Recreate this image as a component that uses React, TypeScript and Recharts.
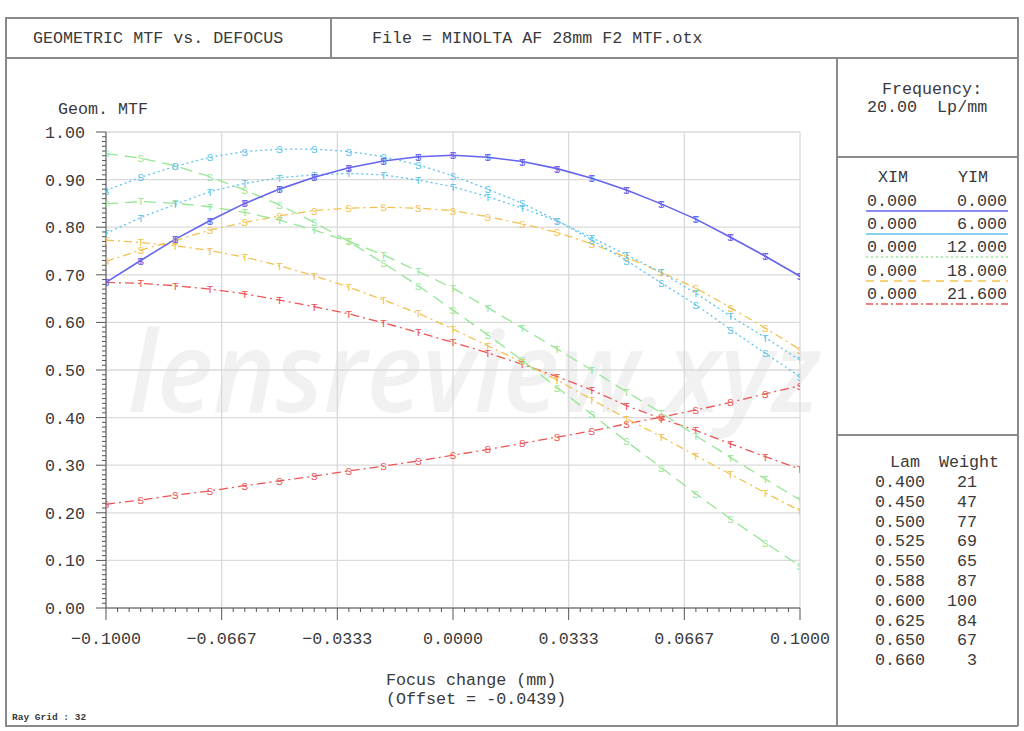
import React from "react";
import { CartesianGrid, Line, LineChart, XAxis, YAxis } from "recharts";

const FONT = "'Liberation Mono', 'DejaVu Sans Mono', monospace";
const INK = "#3a3a3a";
const AXIS = "#555";

// focus shift (mm), one sample every 0.01
const focus = [
  -0.1, -0.09, -0.08, -0.07, -0.06, -0.05, -0.04, -0.03, -0.02, -0.01, 0,
  0.01, 0.02, 0.03, 0.04, 0.05, 0.06, 0.07, 0.08, 0.09, 0.1,
];

const axis0 = [0.684, 0.73, 0.775, 0.814, 0.85, 0.88, 0.905, 0.925, 0.939, 0.948, 0.951, 0.947, 0.938, 0.923, 0.903, 0.878, 0.849, 0.817, 0.779, 0.739, 0.697];
const f6T = [0.787, 0.82, 0.848, 0.875, 0.892, 0.904, 0.91, 0.913, 0.91, 0.899, 0.885, 0.864, 0.84, 0.813, 0.778, 0.742, 0.705, 0.661, 0.613, 0.568, 0.521];
const f6S = [0.877, 0.905, 0.928, 0.947, 0.959, 0.964, 0.964, 0.959, 0.948, 0.931, 0.908, 0.88, 0.85, 0.814, 0.773, 0.73, 0.683, 0.637, 0.585, 0.535, 0.486];
const f12T = [0.849, 0.854, 0.85, 0.843, 0.831, 0.815, 0.794, 0.77, 0.742, 0.707, 0.672, 0.631, 0.588, 0.544, 0.5, 0.454, 0.41, 0.362, 0.316, 0.271, 0.227];
const f12S = [0.955, 0.945, 0.929, 0.906, 0.878, 0.847, 0.81, 0.77, 0.724, 0.677, 0.626, 0.574, 0.52, 0.463, 0.407, 0.35, 0.295, 0.24, 0.187, 0.137, 0.088];
const f18T = [0.773, 0.768, 0.761, 0.751, 0.737, 0.719, 0.698, 0.674, 0.647, 0.619, 0.586, 0.551, 0.516, 0.479, 0.438, 0.398, 0.36, 0.32, 0.281, 0.242, 0.204];
const f18S = [0.728, 0.752, 0.772, 0.794, 0.81, 0.824, 0.835, 0.84, 0.842, 0.84, 0.835, 0.822, 0.807, 0.789, 0.765, 0.737, 0.705, 0.672, 0.631, 0.588, 0.543];
const f216T = [0.684, 0.682, 0.677, 0.67, 0.66, 0.647, 0.633, 0.618, 0.599, 0.579, 0.558, 0.536, 0.512, 0.486, 0.458, 0.425, 0.398, 0.373, 0.345, 0.318, 0.292];
const f216S = [0.218, 0.227, 0.237, 0.246, 0.257, 0.267, 0.277, 0.288, 0.298, 0.309, 0.321, 0.333, 0.346, 0.359, 0.372, 0.387, 0.401, 0.416, 0.432, 0.45, 0.467];

const xDomain = [-0.1, 0.1];
const yDomain = [0, 1];
const xTicks = [-0.1, -0.066667, -0.033333, 0, 0.033333, 0.066667, 0.1];
const xTickLabels = ["\u22120.1000", "\u22120.0667", "\u22120.0333", "0.0000", "0.0333", "0.0667", "0.1000"];
const yTicks = [0, 0.1, 0.2, 0.3, 0.4, 0.5, 0.6, 0.7, 0.8, 0.9, 1.0];
// ten minor divisions between labelled ticks on x, 0.01 steps on y
const xMinor = Array.from({ length: 61 }, (_, i) => -0.1 + i / 300);
const yMinor = Array.from({ length: 101 }, (_, i) => i / 100);

const fieldX = ["0.000", "0.000", "0.000", "0.000", "0.000"];
const fieldY = ["0.000", "6.000", "12.000", "18.000", "21.600"];
const lams = ["0.400", "0.450", "0.500", "0.525", "0.550", "0.588", "0.600", "0.625", "0.650", "0.660"];
const weights = ["21", "47", "77", "69", "65", "87", "100", "84", "67", "3"];

const BLUE = "#6464ee";
const CYAN = "#5cc4ec";
const GREEN = "#95e695";
const ORANGE = "#f2c250";
const RED = "#ec5555";

const seriesDefs = [
  { key: "f216S", values: f216S, color: RED, dash: "9 4 2 4", mark: "S" },
  { key: "f216T", values: f216T, color: RED, dash: "9 4 2 4", mark: "T" },
  { key: "f18S", values: f18S, color: ORANGE, dash: "8 4 2 4", mark: "S" },
  { key: "f18T", values: f18T, color: ORANGE, dash: "8 4 2 4", mark: "T" },
  { key: "f12S", values: f12S, color: GREEN, dash: "12 7", mark: "S" },
  { key: "f12T", values: f12T, color: GREEN, dash: "12 7", mark: "T" },
  { key: "f6S", values: f6S, color: CYAN, dash: "2 3", mark: "S" },
  { key: "f6T", values: f6T, color: CYAN, dash: "2 3", mark: "T" },
  { key: "axis0", values: axis0, color: BLUE, dash: undefined, mark: "ST" },
];

const rows = focus.map((x, i) => {
  const r: Record<string, number> = { x };
  for (const s of seriesDefs) r[s.key] = s.values[i];
  return r;
});

function marker(color: string, mark: string) {
  return (props: any) => {
    const { cx, cy, index } = props;
    return (
      <g key={`m${index}`}>
        {mark.split("").map((ch) => (
          <text key={ch} x={cx} y={cy + 4} textAnchor="middle" fontSize={11} fontFamily={FONT} fill={color}>
            {ch}
          </text>
        ))}
      </g>
    );
  };
}

function XTick(props: any) {
  const { x, y, payload } = props;
  const k = Math.round((payload.value + 0.1) * 300);
  const major = k % 10 === 0;
  return (
    <g>
      <line x1={x} x2={x} y1={y} y2={y + (major ? 12 : 4)} stroke={AXIS} />
      {major && (
        <text x={x} y={y + 24} dy="0.71em" textAnchor="middle" fontSize={16.7} fontFamily={FONT} fill={INK}>
          {xTickLabels[k / 10]}
        </text>
      )}
    </g>
  );
}

function YTick(props: any) {
  const { x, y, payload } = props;
  const k = Math.round(payload.value * 100);
  const major = k % 10 === 0;
  return (
    <g>
      <line x1={x - (major ? 10 : 4)} x2={x} y1={y} y2={y} stroke={AXIS} />
      {major && (
        <text x={x - 21} y={y} dy="0.355em" textAnchor="end" fontSize={16.7} fontFamily={FONT} fill={INK}>
          {(k / 100).toFixed(2)}
        </text>
      )}
    </g>
  );
}

// grid only at the labelled ticks, placed inside the plot offset
const gridX = (p: any) => {
  const o = p?.offset;
  if (!o) return [];
  return xTicks.map((t) => o.left + ((t - xDomain[0]) / (xDomain[1] - xDomain[0])) * o.width);
};
const gridY = (p: any) => {
  const o = p?.offset;
  if (!o) return [];
  return yTicks.map((t) => o.top + (1 - (t - yDomain[0]) / (yDomain[1] - yDomain[0])) * o.height);
};

function Txt({ x, y, children, size = 16.7, anchor = "left", w, bold }: any) {
  const style: React.CSSProperties = {
    position: "absolute",
    top: y - 10,
    lineHeight: "20px",
    fontFamily: FONT,
    fontSize: size,
    fontWeight: bold ? 700 : 400,
    color: INK,
    whiteSpace: "pre",
  };
  if (anchor === "right") {
    style.left = x - (w ?? 100);
    style.width = w ?? 100;
    style.textAlign = "right";
  } else {
    style.left = x;
  }
  return <div style={style}>{children}</div>;
}

const rule = (l: number, t: number, w: number, h: number) => (
  <div style={{ position: "absolute", left: l, top: t, width: w, height: h, background: "#8a8a8a" }} />
);

const legendStyles = [
  { color: BLUE, dash: undefined },
  { color: CYAN, dash: undefined },
  { color: GREEN, dash: "2 3" },
  { color: ORANGE, dash: "8 6" },
  { color: RED, dash: "7 3 2 3" },
];
const legendRowY = [202, 225, 248, 272, 295];

export default function App() {
  return (
    <div style={{ position: "fixed", left: 0, top: 0, width: 1024, height: 731, background: "#fff", overflow: "hidden" }}>
      {/* watermark */}
      <svg width={1024} height={731} style={{ position: "absolute", left: 0, top: 0 }}>
        <text
          x={128}
          y={412}
          fontSize={112}
          fontStyle="italic"
          fontWeight={600}
          fontFamily="'Open Sans', Lato, sans-serif"
          fill="#f1f1f1"
          textLength={692}
          lengthAdjust="spacingAndGlyphs"
        >
          lensreview.xyz
        </text>
      </svg>

      <div style={{ position: "absolute", left: 0, top: 0 }}>
        <LineChart width={1024} height={731} data={rows} margin={{ top: 132, right: 224, bottom: 83, left: 46 }}>
          <CartesianGrid
            stroke="#dadada"
            strokeWidth={1.3}
            verticalCoordinatesGenerator={gridX}
            horizontalCoordinatesGenerator={gridY}
          />
          <XAxis
            type="number"
            dataKey="x"
            domain={xDomain}
            allowDataOverflow
            ticks={xMinor}
            interval={0}
            tick={<XTick />}
            tickLine={false}
            tickSize={0}
            tickMargin={0}
            height={40}
            axisLine={{ stroke: AXIS }}
          />
          <YAxis
            type="number"
            domain={yDomain}
            allowDataOverflow
            ticks={yMinor}
            interval={0}
            tick={<YTick />}
            tickLine={false}
            tickSize={0}
            tickMargin={0}
            width={60}
            axisLine={{ stroke: AXIS }}
          />
          {seriesDefs.map((s) => (
            <Line
              key={s.key}
              dataKey={s.key}
              type="linear"
              stroke={s.color}
              strokeWidth={s.key === "axis0" ? 1.6 : 1.3}
              strokeDasharray={s.dash}
              dot={marker(s.color, s.mark)}
              activeDot={false}
              isAnimationActive={false}
            />
          ))}
        </LineChart>
      </div>

      {/* frame */}
      {rule(5, 17, 1013, 1.5)}
      {rule(5, 725, 1013, 1.5)}
      {rule(5, 17, 1.5, 709)}
      {rule(1017, 17, 1.5, 709)}
      {rule(5, 57, 1013, 1.5)}
      {rule(330, 17, 1.5, 40)}
      {rule(836, 57, 1.5, 669)}
      {rule(836, 156, 182, 1.5)}
      {rule(836, 434, 182, 1.5)}

      <Txt x={33} y={39}>GEOMETRIC MTF vs. DEFOCUS</Txt>
      <Txt x={372} y={39}>File = MINOLTA AF 28mm F2 MTF.otx</Txt>
      <Txt x={58} y={110}>Geom. MTF</Txt>
      <Txt x={386} y={681}>Focus change (mm)</Txt>
      <Txt x={386} y={700}>(Offset = -0.0439)</Txt>
      <Txt x={12} y={718} size={9.5} bold>Ray Grid : 32</Txt>

      <Txt x={882} y={90}>Frequency:</Txt>
      <Txt x={867} y={108}>{"20.00  Lp/mm"}</Txt>

      <Txt x={878} y={178}>XIM</Txt>
      <Txt x={958} y={178}>YIM</Txt>
      {fieldY.map((fy, i) => (
        <React.Fragment key={fy}>
          <Txt x={867} y={legendRowY[i]}>{fieldX[i]}</Txt>
          <Txt x={1007} y={legendRowY[i]} anchor="right" w={80}>{fy}</Txt>
        </React.Fragment>
      ))}
      <svg width={1024} height={731} style={{ position: "absolute", left: 0, top: 0, pointerEvents: "none" }}>
        {legendStyles.map((ls, i) => (
          <line
            key={i}
            x1={866}
            x2={1008}
            y1={legendRowY[i] + 9}
            y2={legendRowY[i] + 9}
            stroke={ls.color}
            strokeWidth={1.3}
            strokeDasharray={ls.dash}
          />
        ))}
      </svg>

      <Txt x={890} y={463}>Lam</Txt>
      <Txt x={939} y={463}>Weight</Txt>
      {lams.map((l, i) => (
        <React.Fragment key={l}>
          <Txt x={875} y={483 + i * 19.8}>{l}</Txt>
          <Txt x={977} y={483 + i * 19.8} anchor="right" w={50}>{weights[i]}</Txt>
        </React.Fragment>
      ))}
    </div>
  );
}
